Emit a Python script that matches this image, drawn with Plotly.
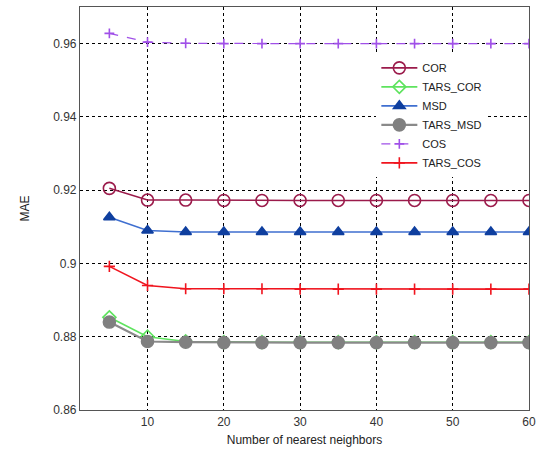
import plotly.graph_objects as go

neighbors = [5, 10, 15, 20, 25, 30, 35, 40, 45, 50, 55, 60]
cor = [0.9205, 0.9173, 0.9173, 0.9172, 0.9172, 0.9172, 0.9172, 0.9172, 0.9172, 0.9172, 0.9172, 0.9172]
tars_cor = [0.8853, 0.8800, 0.8787, 0.8785, 0.8785, 0.8785, 0.8785, 0.8785, 0.8785, 0.8785, 0.8785, 0.8785]
msd = [0.9126, 0.9090, 0.9086, 0.9086, 0.9086, 0.9086, 0.9086, 0.9086, 0.9086, 0.9086, 0.9086, 0.9086]
tars_msd = [0.8840, 0.8787, 0.8785, 0.8784, 0.8784, 0.8784, 0.8784, 0.8784, 0.8784, 0.8784, 0.8784, 0.8784]
cos = [0.9628, 0.9604, 0.9601, 0.9600, 0.9600, 0.9600, 0.9600, 0.9600, 0.9600, 0.9600, 0.9600, 0.9600]
tars_cos = [0.8992, 0.8940, 0.8931, 0.8931, 0.8931, 0.8930, 0.8930, 0.8930, 0.8930, 0.8930, 0.8930, 0.8930]

x_ticks = [10, 20, 30, 40, 50, 60]
y_ticks = [0.86, 0.88, 0.90, 0.92, 0.94, 0.96]
y_tick_labels = ["0.86", "0.88", "0.9", "0.92", "0.94", "0.96"]

series = [
    ("COR", cor, "#9b1b4b", "#9b1b4b", "circle-open", 12, "solid", 1.6),
    ("TARS_COR", tars_cor, "#5ee35e", "#5ee35e", "diamond-open", 10, "solid", 1.6),
    ("MSD", msd, "#3f6fd0", "#0f3f9f", "triangle-up", 10, "solid", 1.6),
    ("TARS_MSD", tars_msd, "#8a8a8a", "#808080", "circle", 12, "solid", 2.2),
    ("COS", cos, "#a050e8", "#a050e8", "cross-thin-open", 7, "dash", 1.2),
    ("TARS_COS", tars_cos, "#f0141e", "#f0141e", "cross-thin-open", 8, "solid", 1.6),
]

fig = go.Figure()
for name, vals, lcol, mcol, sym, size, dash, lw in series:
    fig.add_trace(go.Scatter(
        x=neighbors, y=vals, name=name, mode="lines+markers",
        line=dict(color=lcol, width=lw, dash=dash),
        marker=dict(symbol=sym, size=size, color=mcol, line=dict(color=mcol, width=1.6)),
    ))

axis_common = dict(
    showline=True, linecolor="#555555", linewidth=1.2, mirror=True,
    showgrid=True, gridcolor="#000000", gridwidth=1, griddash="dot",
    zeroline=False, ticks="", tickfont=dict(size=12, color="#333333"),
)

fig.update_layout(
    width=542, height=452,
    margin=dict(l=80, r=10, t=6, b=42),
    paper_bgcolor="white", plot_bgcolor="white",
    font=dict(family="Liberation Sans, Arial, sans-serif", size=12, color="#222222"),
    xaxis=dict(range=[1.15, 60], tickvals=x_ticks,
               title=dict(text="Number of nearest neighbors", font=dict(size=12), standoff=8),
               **axis_common),
    yaxis=dict(range=[0.86, 0.97], tickvals=y_ticks, ticktext=y_tick_labels,
               title=dict(text="MAE", font=dict(size=12), standoff=20),
               **axis_common),
    legend=dict(x=0.66, y=0.885, xanchor="left", yanchor="top",
                bgcolor="white", borderwidth=0, font=dict(size=11),
                tracegroupgap=0, itemwidth=36),
    showlegend=True,
)

fig.write_html("out.html")
